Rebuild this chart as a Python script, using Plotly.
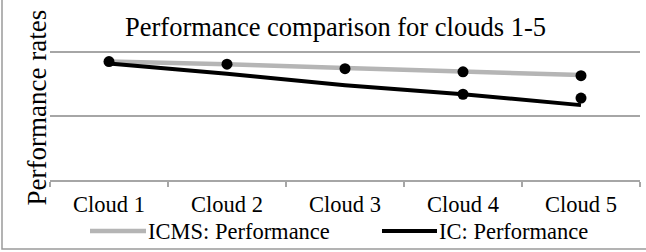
import plotly.graph_objects as go

categories = ["Cloud 1", "Cloud 2", "Cloud 3", "Cloud 4", "Cloud 5"]
icms_line = [1.85, 1.81, 1.75, 1.69, 1.64]
ic_line = [1.82, 1.66, 1.48, 1.34, 1.17]
icms_points = [1.85, 1.81, 1.74, 1.69, 1.63]
ic_points = [None, None, None, 1.34, 1.28]
series_names = ["ICMS: Performance", "IC: Performance"]
series_colors = ["#b5b5b5", "#000000"]

FONT = "Liberation Serif, Times New Roman, serif"
W, H = 646, 252
L, R, T, B = 50, 6, 51, 72
pw, ph = W - L - R, H - T - B
YMAX = 2.016

def px_x(px):
    return (px - L) / pw

def px_y(py):
    return (H - B - py) / ph

fig = go.Figure()
fig.add_trace(go.Scatter(x=categories, y=icms_line, mode="lines", name=series_names[0],
                         line=dict(color=series_colors[0], width=4.5)))
fig.add_trace(go.Scatter(x=categories, y=ic_line, mode="lines", name=series_names[1],
                         line=dict(color=series_colors[1], width=4)))
fig.add_trace(go.Scatter(x=categories, y=icms_points, mode="markers", showlegend=False,
                         marker=dict(color="#000000", size=11)))
fig.add_trace(go.Scatter(x=categories, y=ic_points, mode="markers", showlegend=False,
                         marker=dict(color="#000000", size=11)))

# manual legend (longer line samples, Excel-like spacing)
legend_y = 231
legend_items = [(90, 146, 4.5), (382, 437, 4)]
shapes = [dict(type="rect", xref="paper", yref="paper",
               x0=px_x(2), x1=px_x(652), y0=px_y(249), y1=px_y(-5),
               line=dict(color="#9a9a9a", width=1.5), fillcolor="rgba(0,0,0,0)", layer="below")]
annotations = [dict(text="Performance rates", textangle=-90, x=px_x(36), y=px_y(107.5),
                    xref="paper", yref="paper", xanchor="center", yanchor="middle",
                    showarrow=False, font=dict(size=27, family=FONT))]
for name, color, (x0, x1, lw) in zip(series_names, series_colors, legend_items):
    shapes.append(dict(type="line", xref="paper", yref="paper",
                       x0=px_x(x0), x1=px_x(x1), y0=px_y(legend_y), y1=px_y(legend_y),
                       line=dict(color=color, width=lw)))
    annotations.append(dict(text=name, x=px_x(x1), y=px_y(legend_y), xref="paper", yref="paper",
                            xanchor="left", yanchor="middle", showarrow=False,
                            font=dict(size=22.5, family=FONT)))

fig.update_layout(
    width=W, height=H,
    margin=dict(l=L, r=R, t=T, b=B, autoexpand=False),
    paper_bgcolor="white", plot_bgcolor="white",
    font=dict(family=FONT, color="black", size=22),
    title=dict(text="Performance comparison for clouds 1-5", font=dict(size=26.5, family=FONT),
               x=px_x(335.5), xref="paper", xanchor="center",
               y=1 - 27 / H, yref="container", yanchor="middle"),
    xaxis=dict(type="category", showline=True, linecolor="#a6a6a6", linewidth=1.5,
               ticks="outside", tickson="boundaries", ticklen=5, tickcolor="#a6a6a6",
               tickwidth=1.5, showgrid=False, tickfont=dict(size=22.5, family=FONT),
               ticklabelstandoff=3, range=[-0.5, 4.5]),
    yaxis=dict(range=[0, YMAX], tickvals=[1, 2], showticklabels=False, showgrid=True,
               gridcolor="#a6a6a6", gridwidth=1.5, zeroline=False, showline=False, ticks=""),
    showlegend=False,
    annotations=annotations,
    shapes=shapes,
)

fig.write_html("out.html", config={"displayModeBar": False},
               post_script="document.body.style.margin='0';document.body.style.overflow='hidden';")
